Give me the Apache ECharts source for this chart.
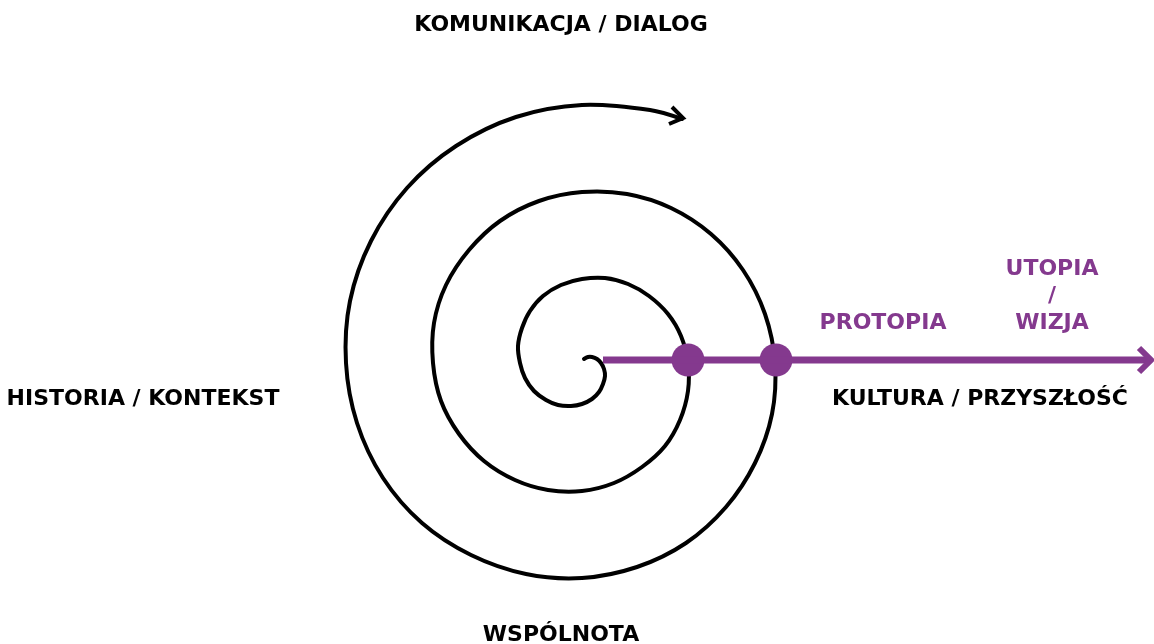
<!DOCTYPE html>
<html>
<head>
<meta charset="utf-8">
<script src="https://cdn.jsdelivr.net/npm/echarts@6/dist/echarts.min.js"></script>
<style>
  html, body { margin: 0; padding: 0; background: #fff; }
  #main { width: 1154px; height: 644px; }
</style>
</head>
<body>
<div id="main"></div>
<script>
// spiral, every 15 degrees going outwards (clockwise)
const spiralX = [584, 588, 592, 597, 601, 604, 605, 603, 599, 592, 582, 571, 558, 546, 534, 525,
  520, 518, 522, 530, 543, 561, 582, 605, 628, 649, 668, 681,
  688, 688, 680, 665, 642, 614, 582, 548, 515, 484, 459, 441,
  433, 434, 446, 469, 500, 539, 582, 627, 671, 711, 743, 765,
  775, 772, 755, 726, 686, 637, 582, 526, 471, 422, 383, 357,
  346, 350, 371, 407, 456, 516, 582, 650, 682]
const spiralY = [359, 357, 357, 359, 363, 369, 376, 384, 392, 399, 404, 406, 405, 400, 391, 378,
  363, 346, 328, 311, 296, 285, 279, 278, 284, 296, 314, 336,
  363, 391, 420, 446, 467, 483, 491, 490, 480, 461, 434, 401,
  363, 323, 285, 250, 221, 201, 192, 194, 208, 234, 270, 314,
  363, 414, 463, 507, 543, 567, 578, 574, 555, 523, 478, 423,
  363, 301, 241, 188, 146, 117, 105, 110, 119]

// arrow heads
const spiralHeadX = [672, 683, 669]
const spiralHeadY = [107, 118, 124]
const axisLineX = [603, 1149]
const axisLineY = [360, 360]
const axisHeadX = [1139, 1151, 1139]
const axisHeadY = [348, 360, 372]

// points on the purple line
const dotX = [688, 776]
const dotY = [360, 360]

// labels
const labelTexts = ['KOMUNIKACJA / DIALOG', 'HISTORIA / KONTEKST', 'WSPÓLNOTA',
  'KULTURA / PRZYSZŁOŚĆ', 'PROTOPIA', 'UTOPIA\n/\nWIZJA']
const labelX = [561, 143, 561, 980, 883, 1052]
const labelY = [25, 399, 635, 399, 323, 296]
const labelPurple = [false, false, false, false, true, true]

const purple = '#84398e'
const zip = (xs, ys) => xs.map((x, i) => [x, ys[i]])
const spiral = zip(spiralX, spiralY)

const chart = echarts.init(document.getElementById('main'))
const option = {
  animation: false,
  backgroundColor: '#fff',
  grid: { left: 0, right: 0, top: 0, bottom: 0 },
  xAxis: { type: 'value', min: 0, max: 1154, show: false },
  yAxis: { type: 'value', min: 0, max: 644, inverse: true, show: false },
  series: [
    {
      // line series clamps its control points, so draw the curve ourselves
      type: 'custom',
      data: spiral,
      renderItem: (params, api) => {
        if (params.dataIndex !== 0) return null
        return {
          type: 'polyline',
          shape: { points: spiral.map(p => api.coord(p)), smooth: 0.34 },
          style: { stroke: '#000', lineWidth: 4, fill: null, lineCap: 'round' }
        }
      }
    },
    {
      type: 'line',
      data: zip(spiralHeadX, spiralHeadY),
      symbol: 'none',
      lineStyle: { color: '#000', width: 4, join: 'miter' }
    },
    {
      type: 'line',
      data: zip(axisLineX, axisLineY),
      symbol: 'none',
      lineStyle: { color: purple, width: 7 }
    },
    {
      type: 'line',
      data: zip(axisHeadX, axisHeadY),
      symbol: 'none',
      lineStyle: { color: purple, width: 6, join: 'miter' }
    },
    {
      type: 'scatter',
      data: zip(dotX, dotY),
      symbolSize: 33,
      itemStyle: { color: purple, opacity: 1 }
    },
    {
      type: 'scatter',
      symbolSize: 0,
      itemStyle: { opacity: 1 },
      data: labelTexts.map((t, i) => ({
        value: [labelX[i], labelY[i]],
        label: {
          show: true,
          position: 'inside',
          formatter: t,
          color: labelPurple[i] ? purple : '#000',
          fontFamily: 'DejaVu Sans',
          fontWeight: 'bold',
          fontSize: 22,
          lineHeight: 27,
          align: 'center',
          verticalAlign: 'middle'
        }
      }))
    }
  ]
}
chart.setOption(option)
</script>
</body>
</html>
